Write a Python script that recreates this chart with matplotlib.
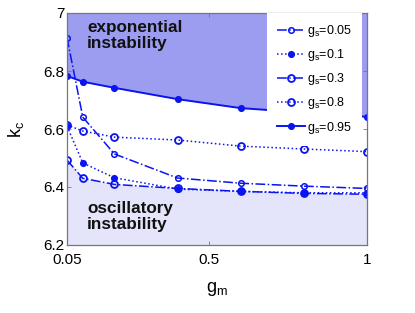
import matplotlib
matplotlib.use("Agg")
import matplotlib.pyplot as plt
import numpy as np

plt.rcParams['font.family'] = ['Liberation Sans', 'DejaVu Sans']
plt.rcParams['mathtext.fontset'] = 'custom'
plt.rcParams['mathtext.rm'] = 'Liberation Sans'
plt.rcParams['mathtext.it'] = 'Liberation Sans'

# g_m values and k_c for each g_s
GM = [0.05, 0.1, 0.2, 0.4, 0.6, 0.8, 1.0]
KC_005 = [6.915, 6.641, 6.514, 6.431, 6.413, 6.403, 6.395]
KC_01 = [6.61, 6.483, 6.432, 6.393, 6.385, 6.38, 6.38]
KC_03 = [6.493, 6.43, 6.409, 6.395, 6.385, 6.378, 6.375]
KC_08 = [6.614, 6.593, 6.572, 6.562, 6.541, 6.531, 6.522]
KC_095 = [6.783, 6.763, 6.742, 6.703, 6.672, 6.657, 6.642]
LABELS = ["0.05", "0.1", "0.3", "0.8", "0.95"]

BLUE = '#0a14f0'

fig = plt.figure(figsize=(4.15, 3.13), dpi=100)
ax = fig.add_axes([67/415, 1-245/313, 300/415, 232/313])

ax.fill_between(GM, KC_095, 7, color='#9c9cf0', lw=0, zorder=0)
ax.fill_between(GM, 6.2, KC_03, color='#e4e4fa', lw=0, zorder=0)

ax.plot(GM, KC_005, ls='-.', marker='o', ms=4, mfc='none', mew=1.1, color=BLUE, lw=1.1,
        label=r'$\mathregular{g_s}$=' + LABELS[0])
ax.plot(GM, KC_01, ls=':', marker='o', ms=4, mfc=BLUE, mew=1.1, color=BLUE, lw=1.1,
        label=r'$\mathregular{g_s}$=' + LABELS[1])
ax.plot(GM, KC_03, ls='-.', marker='o', ms=5, mfc='none', mew=1.3, color=BLUE, lw=1.1,
        label=r'$\mathregular{g_s}$=' + LABELS[2])
ax.plot(GM, KC_08, ls=':', marker='o', ms=5, mfc='none', mew=1.3, color=BLUE, lw=1.1,
        label=r'$\mathregular{g_s}$=' + LABELS[3])
ax.plot(GM, KC_095, ls='-', marker='o', ms=4, mfc=BLUE, mew=1.1, color=BLUE, lw=1.4,
        label=r'$\mathregular{g_s}$=' + LABELS[4])

ax.set_xlim(0.05, 1)
ax.set_ylim(6.2, 7)
ax.set_xticks([0.05, 0.5, 1])
ax.set_xticklabels(["0.05", "0.5", "1"])
ax.set_yticks([6.2, 6.4, 6.6, 6.8, 7])
ax.set_yticklabels(["6.2", "6.4", "6.6", "6.8", "7"])
ax.tick_params(direction='in', length=3, width=0.6, color='#777777',
               labelsize=11, top=True, right=True, pad=2)
ax.tick_params(axis='x', pad=6)
for s in ax.spines.values():
    s.set_color('#777777')
    s.set_linewidth(0.9)

ax.set_xlabel(r'$\mathregular{g_m}$', fontsize=13, labelpad=9)
ax.set_ylabel(r'$\mathregular{k_c}$', fontsize=13, labelpad=12)

ax.text(0.113, 6.975, "exponential\ninstability", fontsize=12.3, fontweight='bold',
        va='top', ha='left', color='#111111', linespacing=1.1)
ax.text(0.113, 6.352, "oscillatory\ninstability", fontsize=12.3, fontweight='bold',
        va='top', ha='left', color='#111111', linespacing=1.1)

leg = ax.legend(loc='upper right', bbox_to_anchor=(0.983, 1.0), borderaxespad=0,
                fontsize=9, frameon=True, fancybox=False, edgecolor='none',
                facecolor='white', framealpha=1, handlelength=2.2,
                handletextpad=0.2, labelspacing=0.65, borderpad=0.8)

fig.savefig("out.png", dpi=100)
